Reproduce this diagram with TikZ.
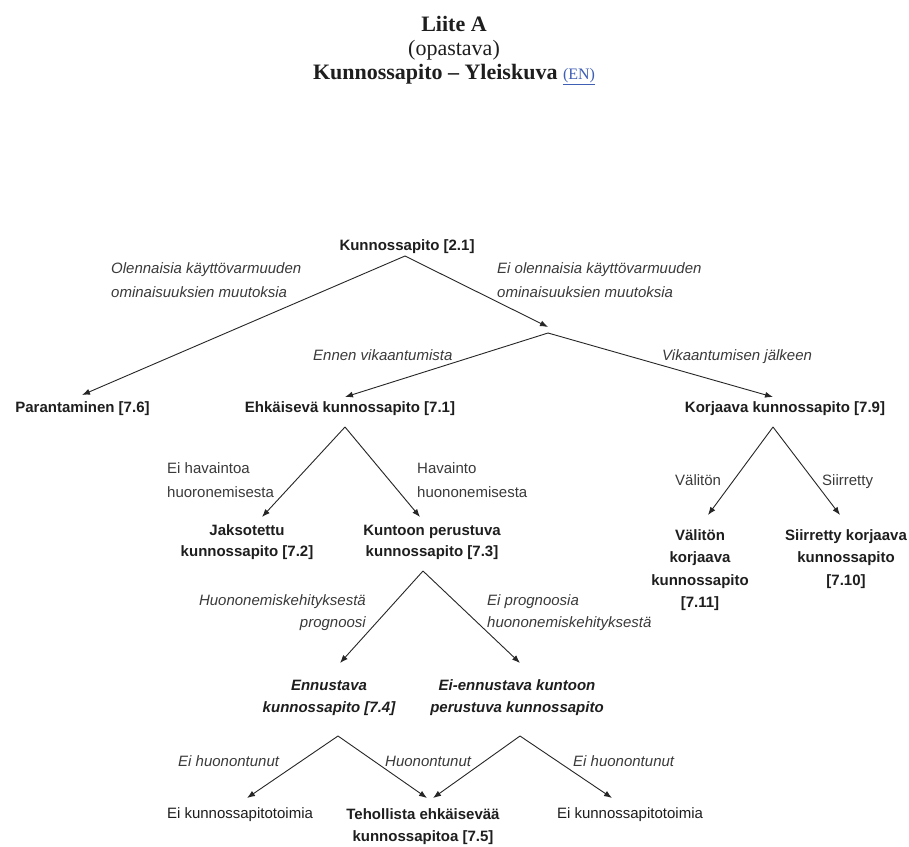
\documentclass[tikz,border=0pt]{standalone}
\usepackage{fontspec}
\setmainfont{Liberation Serif}
\setsansfont{Liberation Sans}
\usetikzlibrary{arrows.meta}
\definecolor{ink}{HTML}{1E1E1E}
\definecolor{labink}{HTML}{3A3A3A}
\definecolor{linec}{HTML}{262626}
\definecolor{enblue}{HTML}{3F5FB5}
\newcommand{\mlc}[1]{\begin{tabular}[t]{@{}c@{}}#1\end{tabular}}
\newcommand{\mll}[1]{\begin{tabular}[t]{@{}l@{}}#1\end{tabular}}
\newcommand{\mlr}[1]{\begin{tabular}[t]{@{}r@{}}#1\end{tabular}}
\newcommand{\dfont}{\fontsize{15}{22.5}\selectfont\sffamily}
\tikzset{
  box/.style={font=\dfont\bfseries, text=ink, inner sep=0pt, anchor=base},
  boxit/.style={font=\dfont\bfseries\itshape, text=ink, inner sep=0pt, anchor=base},
  leaf/.style={font=\dfont, text=ink, inner sep=0pt, anchor=base},
  lab/.style={font=\dfont\itshape, text=labink, inner sep=0pt, anchor=base west},
  labr/.style={font=\dfont\itshape, text=labink, inner sep=0pt, anchor=base east},
  labup/.style={font=\dfont, text=labink, inner sep=0pt, anchor=base west},
  ttl/.style={inner sep=0pt, anchor=base, text=ink},
  arr/.style={draw=linec, line width=0.9pt, -{Latex[length=8pt,width=6pt]}},
}
\begin{document}
\begin{tikzpicture}[x=1pt,y=-1pt]
\useasboundingbox (0,0) rectangle (909,846);
\fill[white] (0,0) rectangle (909,846);

% title
\node[ttl, font=\fontsize{22}{26}\selectfont\bfseries] (t1) at (454,31) {Liite A};
\node[ttl, font=\fontsize{22}{26}\selectfont] (t2) at (454,55) {(opastava)};
\node[ttl, font=\fontsize{22}{26}\selectfont\bfseries] (t3) at (454,79)
  {Kunnossapito -- Yleiskuva {\mdseries\fontsize{16}{18}\selectfont\color{enblue}\underline{(EN)}}};

% nodes
\node[box] (kp) at (407,250) {Kunnossapito [2.1]};
\node[box] (par) at (82.5,412) {Parantaminen [7.6]};
\node[box] (ehk) at (350,412) {Ehkäisevä kunnossapito [7.1]};
\node[box] (kor) at (785,412) {Korjaava kunnossapito [7.9]};
\node[box] (jak) at (247,535) {\mlc{Jaksotettu\\[-1.5pt] kunnossapito [7.2]}};
\node[box] (kun) at (432,535) {\mlc{Kuntoon perustuva\\[-1.5pt] kunnossapito [7.3]}};
\node[boxit] (enn) at (329,690) {\mlc{Ennustava\\ kunnossapito [7.4]}};
\node[boxit] (eie) at (517,690) {\mlc{Ei-ennustava kuntoon\\ perustuva kunnossapito}};
\node[leaf] (eik1) at (240,818) {Ei kunnossapitotoimia};
\node[box] (teh) at (423,819) {\mlc{Tehollista ehkäisevää\\ kunnossapitoa [7.5]}};
\node[leaf] (eik2) at (630,818) {Ei kunnossapitotoimia};
\node[box] (val) at (700,540) {\mlc{Välitön\\ korjaava\\ kunnossapito\\ {[7.11]}}};
\node[box] (sii) at (846,540) {\mlc{Siirretty korjaava\\ kunnossapito\\ {[7.10]}}};

% labels
\node[lab] (l1) at (111,273) {\mll{Olennaisia käyttövarmuuden\\[1.5pt] ominaisuuksien muutoksia}};
\node[lab] (l2) at (497,273) {\mll{Ei olennaisia käyttövarmuuden\\[1.5pt] ominaisuuksien muutoksia}};
\node[lab] (l3) at (313,360) {Ennen vikaantumista};
\node[lab] (l4) at (662,360) {Vikaantumisen jälkeen};
\node[labup] (l5) at (167,473) {\mll{Ei havaintoa\\[1.5pt] huoronemisesta}};
\node[labup] (l6) at (417,473) {\mll{Havainto\\[1.5pt] huononemisesta}};
\node[labr] (l7) at (366,605) {\mlr{Huononemiskehityksestä\\ prognoosi}};
\node[lab] (l8) at (487,605) {\mll{Ei prognoosia\\ huononemiskehityksestä}};
\node[lab] (l9) at (178,766) {Ei huonontunut};
\node[lab] (l10) at (385,766) {Huonontunut};
\node[lab] (l11) at (573,766) {Ei huonontunut};
\node[labup] (l12) at (675,485) {Välitön};
\node[labup] (l13) at (822,485) {Siirretty};

% branch points (apexes) and arrow tips
\coordinate (a1) at (405,256);
\coordinate (a2) at (548,333);
\coordinate (a3) at (345,427);
\coordinate (a4) at (423,571);
\coordinate (a5) at (338,736);
\coordinate (a6) at (520,736);
\coordinate (a7) at (773,427);
\coordinate (tpar) at (82,395);
\coordinate (ta2) at (548,327);
\coordinate (tehk) at (345,397);
\coordinate (tkor) at (773,397);
\coordinate (tjak) at (262,517);
\coordinate (tkun) at (420,517);
\coordinate (tenn) at (340,663);
\coordinate (teie) at (520,663);
\coordinate (teik1) at (247,798);
\coordinate (teh1) at (427,798);
\coordinate (teh2) at (433,798);
\coordinate (teik2) at (612,798);
\coordinate (tval) at (708,515);
\coordinate (tsii) at (840,515);

% connectors
\draw[arr] (a1) -- (tpar);
\draw[arr] (a1) -- (ta2);
\draw[arr] (a2) -- (tehk);
\draw[arr] (a2) -- (tkor);
\draw[arr] (a3) -- (tjak);
\draw[arr] (a3) -- (tkun);
\draw[arr] (a4) -- (tenn);
\draw[arr] (a4) -- (teie);
\draw[arr] (a5) -- (teik1);
\draw[arr] (a5) -- (teh1);
\draw[arr] (a6) -- (teh2);
\draw[arr] (a6) -- (teik2);
\draw[arr] (a7) -- (tval);
\draw[arr] (a7) -- (tsii);
\end{tikzpicture}
\end{document}
